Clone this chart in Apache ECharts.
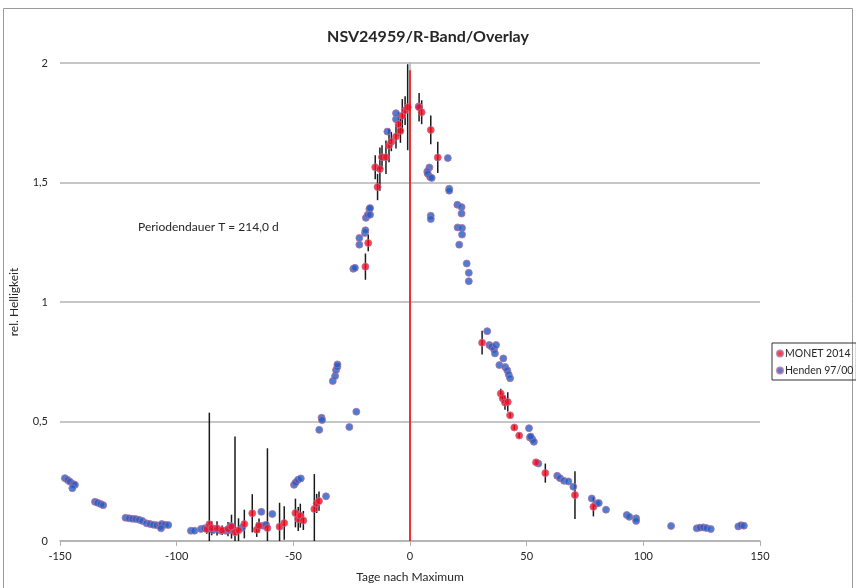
<!DOCTYPE html>
<html>
<head>
<meta charset="utf-8">
<script src="https://cdn.jsdelivr.net/npm/echarts@6/dist/echarts.min.js"></script>
<style>
  html, body { margin: 0; padding: 0; background: #fff; }
  #chart { width: 856px; height: 588px; }
</style>
</head>
<body>
<div id="chart"></div>
<script>
// Achsen
var xTicks = [-150, -100, -50, 0, 50, 100, 150];
var yTicks = [0, 0.5, 1, 1.5, 2];

// MONET 2014: Tage, rel. Helligkeit, Fehler
var monetX = [-87.1, -86, -85, -82.7, -80.5, -78, -76.5, -75, -73.5, -71, -67.6, -65.7, -64.7, -61.1, -55.9, -53.9,
  -49.1, -47.9, -47, -45.7, -41, -40, -39,
  -19.1, -17.9, -14.9, -13.9, -12.9, -12, -10.3, -9, -8, -6, -4.9, -4.1, -3.3, -2.1, -1,
  3.9, 5, 8.9, 11.9,
  30.9, 38.9, 39.7, 40.7, 41.9, 42.9, 44.7, 46.8, 54, 58, 70.7, 78.6];
var monetY = [0.050, 0.070, 0.054, 0.053, 0.045, 0.050, 0.060, 0.037, 0.045, 0.071, 0.116, 0.047, 0.064, 0.054, 0.060, 0.075,
  0.117, 0.092, 0.106, 0.086, 0.134, 0.157, 0.167,
  1.148, 1.247, 1.564, 1.481, 1.556, 1.606, 1.606, 1.655, 1.671, 1.692, 1.744, 1.716, 1.779, 1.801, 1.815,
  1.815, 1.794, 1.720, 1.605,
  0.830, 0.617, 0.597, 0.579, 0.582, 0.526, 0.475, 0.441, 0.329, 0.284, 0.192, 0.143];
var monetErr = [0.02, 0.467, 0.03, 0.03, 0.02, 0.03, 0.05, 0.40, 0.05, 0.06, 0.08, 0.03, 0.03, 0.334, 0.10, 0.07,
  0.06, 0.05, 0.05, 0.04, 0.146, 0.04, 0.04,
  0.055, 0.035, 0.05, 0.055, 0.09, 0.05, 0.07, 0.07, 0.04, 0.05, 0.05, 0.05, 0.07, 0.06, 0.18,
  0.06, 0.05, 0.06, 0.065,
  0.05, 0.02, 0.02, 0.03, 0.04, 0.01, 0.01, 0.01, 0.01, 0.04, 0.10, 0.04];

// Henden 97/00
var hendenX = [-147.9, -146.7, -145.7, -144.3, -143.6, -144.7,
  -135, -133.9, -132.6, -131.5,
  -121.9, -120.4, -119, -117.6, -116.1, -114.7,
  -112.9, -111.4, -110, -108.6, -107.1, -106.4, -105, -103.6, -106.7,
  -93.9, -92.4, -89.6, -88.1, -84.5, -81, -79, -77, -76.9, -72,
  -63.7, -62.9, -61.7, -59,
  -49.7, -49, -48, -46.8, -36,
  -38.9, -37.9, -37.7, -33.1, -32.1, -31.7, -31.1, -31.1, -26, -23,
  -24.3, -23.6, -21.7, -21.7, -19.3, -19.1, -18.9, -18.1, -17.4, -17.1, -17.1,
  -9.7, -6, -6, 3.7,
  8.3, 7.4, 7.6, 8.6, 9.3, 8.9, 8.9, 16.2, 16.8, 16.8, 20.3, 22.1, 22.1, 20.4, 22.3, 22.3, 21.1, 24.3, 25.2, 25.2,
  33.1, 34, 35, 36, 36.9, 36.4, 40, 38.3, 40.8, 41.7, 42.3, 42.9,
  51, 51.4, 52.4, 53.1, 51.7, 55, 63.1, 64.3, 66, 67.9, 70, 77.9, 80, 80.9, 84,
  92.9, 94, 96.9, 96.9, 111.9, 122.9, 124.3, 125.7, 127.1, 128.9, 140.7, 141.9, 143.1];
var hendenY = [0.263, 0.255, 0.248, 0.238, 0.235, 0.221,
  0.164, 0.160, 0.155, 0.150,
  0.097, 0.095, 0.093, 0.092, 0.089, 0.084,
  0.074, 0.071, 0.068, 0.066, 0.063, 0.071, 0.068, 0.067, 0.053,
  0.043, 0.043, 0.050, 0.053, 0.045, 0.043, 0.043, 0.045, 0.063, 0.055,
  0.122, 0.064, 0.068, 0.113,
  0.235, 0.245, 0.256, 0.262, 0.187,
  0.465, 0.516, 0.506, 0.669, 0.690, 0.715, 0.729, 0.739, 0.477, 0.541,
  1.139, 1.143, 1.240, 1.268, 1.289, 1.300, 1.352, 1.365, 1.389, 1.393, 1.365,
  1.713, 1.765, 1.790, 1.818,
  1.563, 1.546, 1.537, 1.523, 1.519, 1.361, 1.347, 1.602, 1.474, 1.466, 1.407, 1.397, 1.370, 1.312, 1.310, 1.282, 1.240, 1.161, 1.122, 1.087,
  0.878, 0.820, 0.813, 0.802, 0.820, 0.785, 0.764, 0.736, 0.728, 0.714, 0.697, 0.681,
  0.472, 0.433, 0.426, 0.415, 0.437, 0.324, 0.273, 0.263, 0.252, 0.249, 0.227, 0.178, 0.157, 0.159, 0.131,
  0.109, 0.101, 0.095, 0.084, 0.063, 0.053, 0.056, 0.057, 0.054, 0.050, 0.061, 0.066, 0.064];

var maxLineY = 1.97;

var monetData = [], monetErrData = [], hendenData = [];
for (var i = 0; i < monetX.length; i++) {
  monetData.push([monetX[i], monetY[i]]);
  monetErrData.push([monetX[i], monetY[i], monetErr[i]]);
}
for (var j = 0; j < hendenX.length; j++) {
  hendenData.push([hendenX[j], hendenY[j]]);
}

var myChart = echarts.init(document.getElementById('chart'));
var font = 'Lato, "Open Sans", sans-serif';

var option = {
  animation: false,
  textStyle: { fontFamily: font },
  title: {
    text: 'NSV24959/R-Band/Overlay',
    left: 'center',
    top: 24,
    textStyle: { fontFamily: font, fontSize: 16, fontWeight: 'bold', color: '#262626' }
  },
  graphic: [
    { type: 'rect', shape: { x: 3.5, y: 8.5, width: 849, height: 590 }, style: { fill: 'none', stroke: '#9a9a9a', lineWidth: 1 }, silent: true },
    { type: 'text', left: 138, top: 221, style: { text: 'Periodendauer T = 214,0 d', fontFamily: font, fontSize: 12, fill: '#262626' } }
  ],
  legend: {
    orient: 'vertical',
    left: 772,
    top: 343,
    padding: [5, 3, 4, 4],
    itemGap: 6,
    itemWidth: 6,
    itemHeight: 6,
    borderColor: '#333',
    borderWidth: 1,
    textStyle: { fontFamily: font, fontSize: 10.5, color: '#262626', padding: [0, 0, 0, -3] },
    data: [
      { name: 'MONET 2014', icon: 'circle' },
      { name: 'Henden 97/00', icon: 'circle' }
    ]
  },
  grid: { left: 60, right: 96, top: 63, bottom: 46 },
  xAxis: {
    type: 'value',
    min: xTicks[0],
    max: xTicks[xTicks.length - 1],
    interval: 50,
    name: 'Tage nach Maximum',
    nameLocation: 'middle',
    nameGap: 30,
    nameTextStyle: { fontFamily: font, fontSize: 12, color: '#262626' },
    axisLine: { lineStyle: { color: '#b0b0b0', width: 1.5 } },
    axisTick: { show: true, length: 5, lineStyle: { color: '#b0b0b0' } },
    axisLabel: { fontFamily: font, fontSize: 11, color: '#262626', margin: 10 },
    splitLine: { show: false }
  },
  yAxis: {
    type: 'value',
    min: yTicks[0],
    max: yTicks[yTicks.length - 1],
    interval: 0.5,
    name: 'rel. Helligkeit',
    nameLocation: 'middle',
    nameGap: 40,
    nameTextStyle: { fontFamily: font, fontSize: 12, color: '#262626' },
    axisLine: { show: true, lineStyle: { color: '#b0b0b0', width: 1.5 } },
    axisTick: { show: false },
    axisLabel: {
      fontFamily: font, fontSize: 11, color: '#262626', margin: 12,
      formatter: function (v) { return String(v).replace('.', ','); }
    },
    splitLine: { lineStyle: { color: '#b3b3b3', width: 1.5 } }
  },
  series: [
    {
      name: 'Fehler',
      type: 'custom',
      clip: true,
      z: 1,
      renderItem: function (params, api) {
        var x = api.value(0), y = api.value(1), e = api.value(2);
        var p1 = api.coord([x, y + e]);
        var p2 = api.coord([x, y - e]);
        return {
          type: 'line',
          shape: { x1: p1[0], y1: p1[1], x2: p2[0], y2: p2[1] },
          style: { stroke: '#1a1a1a', lineWidth: 1.5 }
        };
      },
      encode: { x: 0, y: 1 },
      data: monetErrData
    },
    {
      name: 'Henden 97/00',
      type: 'scatter',
      symbol: 'circle',
      symbolSize: 7,
      z: 2,
      itemStyle: { color: '#1f5cc8', borderColor: '#b0709e', borderWidth: 1 },
      data: hendenData
    },
    {
      name: 'MONET 2014',
      type: 'scatter',
      symbol: 'circle',
      symbolSize: 7,
      z: 3,
      itemStyle: { color: '#ff0a1a', borderColor: '#b0709e', borderWidth: 1 },
      data: monetData,
      markLine: {
        silent: true,
        symbol: 'none',
        label: { show: false },
        lineStyle: { color: '#ff0000', width: 1.5, type: 'solid' },
        data: [[{ coord: [0, 0] }, { coord: [0, maxLineY] }]]
      }
    }
  ]
};

myChart.setOption(option);
</script>
</body>
</html>
